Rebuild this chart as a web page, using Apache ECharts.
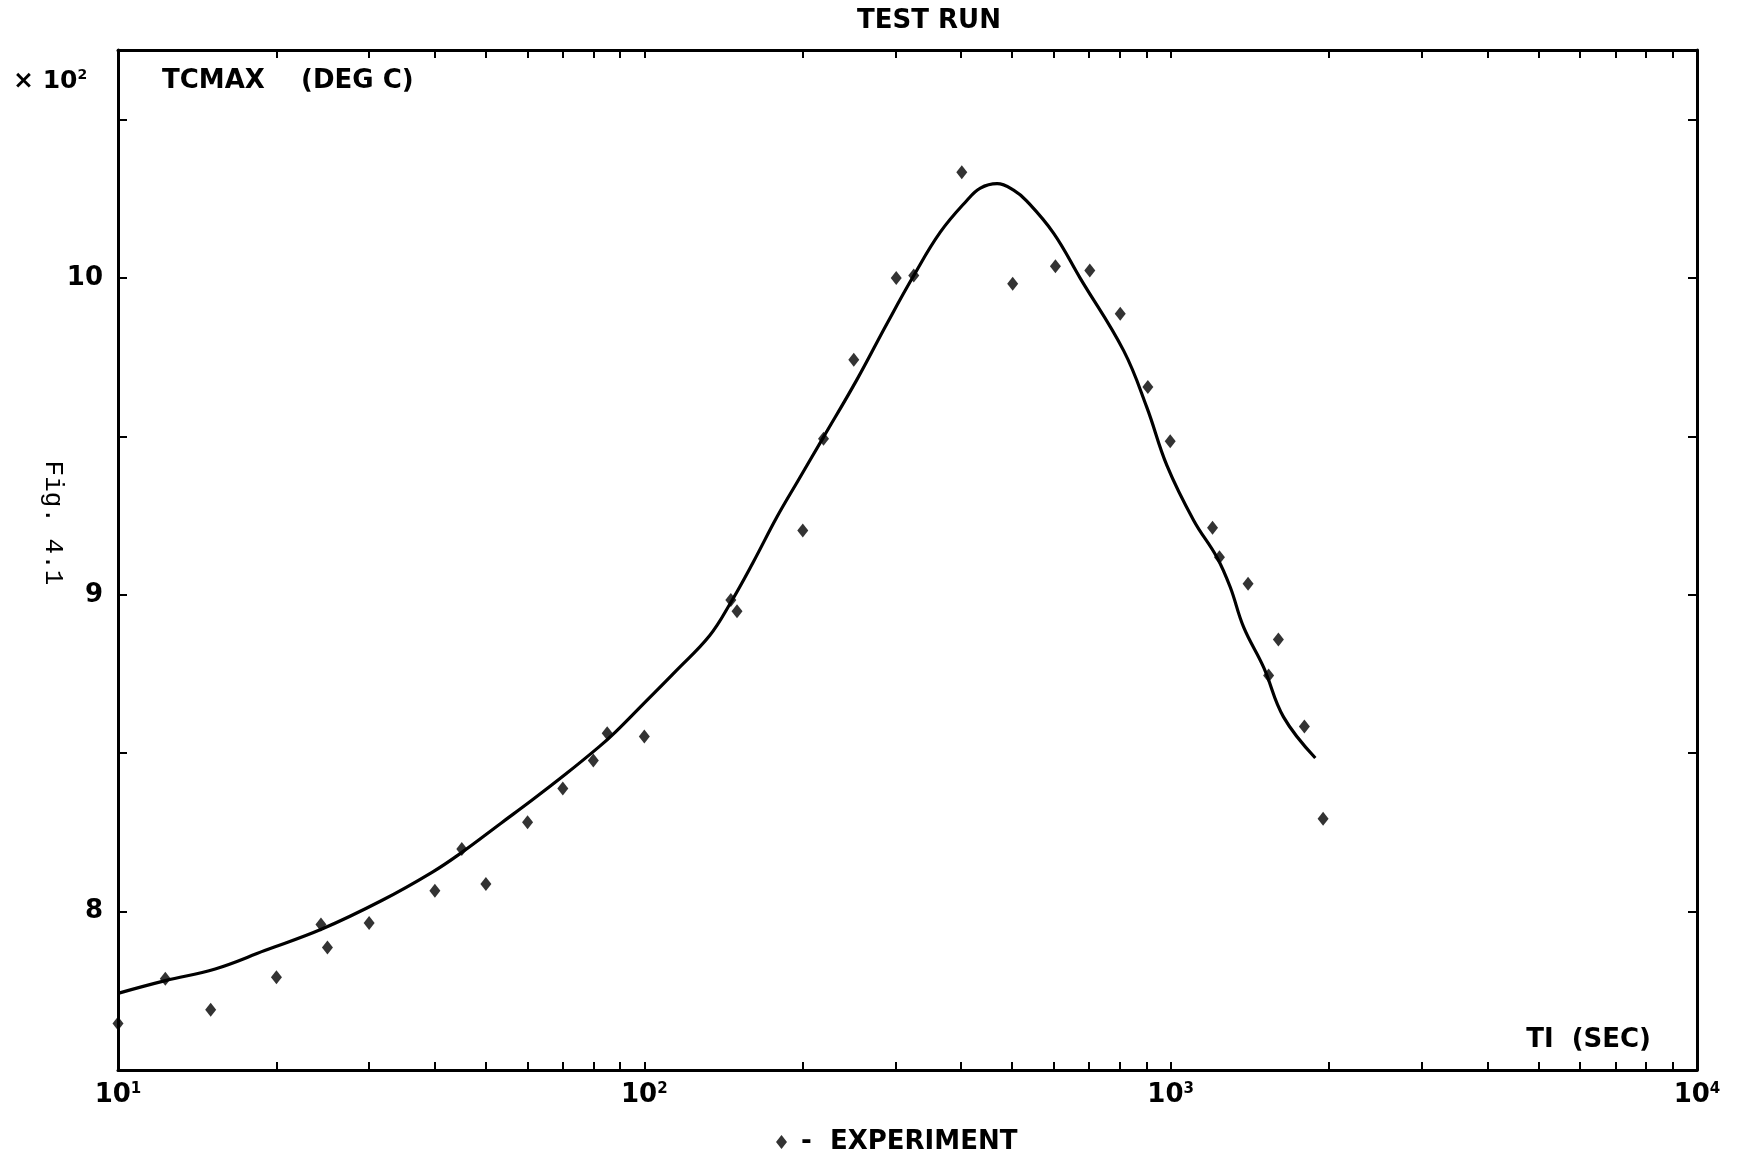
<!DOCTYPE html>
<html>
<head>
<meta charset="utf-8">
<title>TEST RUN</title>
<script src="https://cdn.jsdelivr.net/npm/echarts@6/dist/echarts.min.js"></script>
<style>
  html, body { margin: 0; padding: 0; background: #fff; }
  #chart { width: 1749px; height: 1157px; }
</style>
</head>
<body>
<div id="chart"></div>
<script>
// Experiment: time TI (s) and maximum temperature TCMAX (deg C, x 10^2)
const expTime = [10, 12.3, 15, 20, 24.3, 25, 30, 40, 45, 50, 60, 70, 80, 85, 100,
  146, 150, 200, 219, 250, 301, 325, 401, 501, 604, 702, 802, 905, 998,
  1201, 1238, 1403, 1535, 1602, 1795, 1948];
const expTemp = [7.647, 7.788, 7.690, 7.793, 7.959, 7.887, 7.964, 8.066, 8.198, 8.087,
  8.282, 8.389, 8.477, 8.563, 8.553, 8.984, 8.948, 9.203, 9.493, 9.742, 10.0, 10.008,
  10.334, 9.982, 10.037, 10.024, 9.887, 9.656, 9.485, 9.212, 9.119, 9.035, 8.745,
  8.859, 8.584, 8.293];

// Calculated curve
const fitTime = [10, 12.3, 15.3, 19, 24.4, 31.7, 39.5, 45, 53.5, 61.3, 71, 82, 88, 99.6,
  115, 133, 145.5, 161, 178.5, 196, 219, 253, 289, 325, 365, 410, 435, 468, 503, 533,
  599, 673, 814, 901, 984, 1106, 1224, 1298, 1376, 1502, 1639, 1883];
const fitTemp = [7.742, 7.782, 7.819, 7.877, 7.945, 8.035, 8.124, 8.187, 8.28, 8.353,
  8.435, 8.52, 8.566, 8.656, 8.761, 8.871, 8.972, 9.103, 9.245, 9.361, 9.498, 9.677,
  9.856, 10.008, 10.145, 10.245, 10.284, 10.298, 10.278, 10.243, 10.142, 10.0, 9.771,
  9.592, 9.408, 9.235, 9.119, 9.024, 8.898, 8.771, 8.614, 8.485];

// Axis ticks
const timeTicks = [10, 20, 30, 40, 50, 60, 70, 80, 90,
  100, 200, 300, 400, 500, 600, 700, 800, 900,
  1000, 2000, 3000, 4000, 5000, 6000, 7000, 8000, 9000, 10000];
const timeLabels = [10, 100, 1000, 10000];
const tempMin = 7.5, tempMax = 10.72, tempStep = 0.5;

const FONT = 'DejaVu Sans';
const INK = '#000';

const zip = (xs, ys) => xs.map((x, i) => [x, ys[i]]);

const chart = echarts.init(document.getElementById('chart'), null, { renderer: 'canvas' });

const axisLineStyle = { show: true, onZero: false, lineStyle: { color: INK, width: 3 } };
const tickStyle = { lineStyle: { color: INK, width: 2 } };

const option = {
  backgroundColor: '#fff',
  animation: false,
  grid: { left: 118, right: 52, top: 50, bottom: 87, outerBoundsMode: 'none' },
  legend: {
    left: 771, top: 1124,
    icon: 'diamond', itemWidth: 11, itemHeight: 14, itemGap: 0,
    data: ['EXPERIMENT'],
    formatter: ' -  {name}',
    textStyle: { fontFamily: FONT, fontWeight: 'bold', fontSize: 26, color: INK }
  },
  xAxis: [
    {
      type: 'log', logBase: 10, min: 10, max: 10000, position: 'bottom',
      axisLine: axisLineStyle,
      axisTick: Object.assign({ show: true, inside: true, length: 8, customValues: timeTicks }, tickStyle),
      splitLine: { show: false },
      axisLabel: {
        margin: 12,
        customValues: timeLabels,
        formatter: v => '{b|10}{s|' + Math.round(Math.log10(v)) + '}',
        rich: {
          b: { fontFamily: FONT, fontWeight: 'bold', fontSize: 26, color: INK },
          s: { fontFamily: FONT, fontWeight: 'bold', fontSize: 15, color: INK, verticalAlign: 'top' }
        }
      }
    },
    {
      type: 'log', logBase: 10, min: 10, max: 10000, position: 'top',
      axisLine: axisLineStyle,
      axisTick: Object.assign({ show: true, inside: true, length: 8, customValues: timeTicks }, tickStyle),
      splitLine: { show: false },
      axisLabel: { show: false }
    }
  ],
  yAxis: [
    {
      type: 'value', min: tempMin, max: tempMax, interval: tempStep, position: 'left',
      axisLine: axisLineStyle,
      axisTick: Object.assign({ show: true, inside: true, length: 9 }, tickStyle),
      splitLine: { show: false },
      axisLabel: {
        margin: 15,
        formatter: v => (v % 1 === 0 ? String(v) : ''),
        fontFamily: FONT, fontWeight: 'bold', fontSize: 26, color: INK
      }
    },
    {
      type: 'value', min: tempMin, max: tempMax, interval: tempStep, position: 'right',
      axisLine: axisLineStyle,
      axisTick: Object.assign({ show: true, inside: true, length: 9 }, tickStyle),
      splitLine: { show: false },
      axisLabel: { show: false }
    }
  ],
  graphic: [
    { type: 'text', x: 929, y: 21,
      style: { text: 'TEST RUN', align: 'center', verticalAlign: 'middle',
        fontFamily: FONT, fontWeight: 'bold', fontSize: 26, fill: INK } },
    { type: 'text', x: 13, y: 81,
      style: { text: '{b|× 10}{s|2}', verticalAlign: 'middle',
        rich: {
          b: { fontFamily: FONT, fontWeight: 'bold', fontSize: 25, fill: INK },
          s: { fontFamily: FONT, fontWeight: 'bold', fontSize: 14, fill: INK, verticalAlign: 'top' }
        } } },
    { type: 'text', x: 162, y: 81,
      style: { text: 'TCMAX    (DEG C)', verticalAlign: 'middle',
        fontFamily: FONT, fontWeight: 'bold', fontSize: 26, fill: INK } },
    { type: 'text', x: 1651, y: 1040,
      style: { text: 'TI  (SEC)', align: 'right', verticalAlign: 'middle',
        fontFamily: FONT, fontWeight: 'bold', fontSize: 26, fill: INK } },
    { type: 'text', x: 53, y: 523, rotation: -Math.PI / 2,
      style: { text: 'Fig. 4.1', align: 'center', verticalAlign: 'middle',
        fontFamily: 'Liberation Mono', fontSize: 26, fill: INK } }
  ],
  series: [
    {
      name: 'CALCULATED',
      type: 'line',
      xAxisIndex: 0, yAxisIndex: 0,
      data: zip(fitTime, fitTemp),
      showSymbol: false,
      smooth: 0.4,
      lineStyle: { color: INK, width: 3.2 },
      z: 2
    },
    {
      name: 'EXPERIMENT',
      type: 'scatter',
      xAxisIndex: 0, yAxisIndex: 0,
      data: zip(expTime, expTemp),
      symbol: 'diamond',
      symbolSize: [11, 14],
      itemStyle: { color: INK },
      z: 3
    }
  ]
};

chart.setOption(option);
</script>
</body>
</html>
